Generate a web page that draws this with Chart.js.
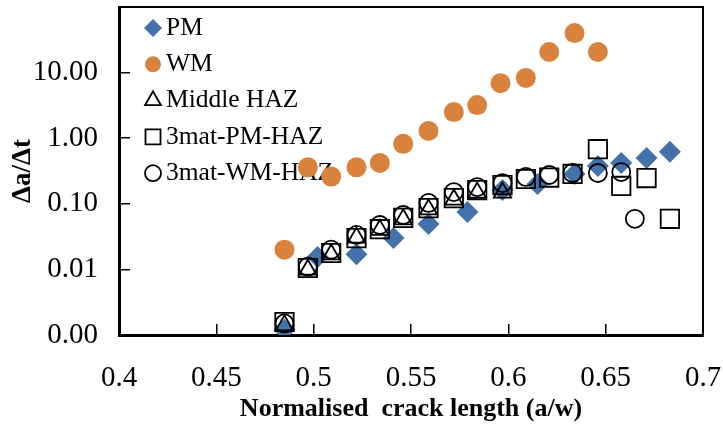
<!DOCTYPE html>
<html>
<head>
<meta charset="utf-8">
<script src="https://cdn.jsdelivr.net/npm/chart.js@4.4.1/dist/chart.umd.min.js"></script>
<style>
    html, body { margin: 0; padding: 0; background: #fff; }
    #wrap { width: 723px; height: 430px; }
</style>
</head>
<body>
<div id="wrap"><canvas id="crackChart" width="723" height="430"></canvas></div>
<script>
const seriesNames = ['PM', 'WM', 'Middle HAZ', '3mat-PM-HAZ', '3mat-WM-HAZ'];

const pmX = [0.485, 0.502, 0.522, 0.541, 0.559, 0.579, 0.597, 0.615, 0.634, 0.646, 0.658, 0.671, 0.683];
const pmY = [0.0012, 0.0155, 0.017, 0.030, 0.049, 0.075, 0.162, 0.20, 0.284, 0.376, 0.42, 0.50, 0.62];

const wmX = [0.485, 0.497, 0.509, 0.522, 0.534, 0.546, 0.559, 0.572, 0.584, 0.596, 0.609, 0.621, 0.634, 0.646];
const wmY = [0.020, 0.36, 0.26, 0.36, 0.42, 0.82, 1.29, 2.5, 3.2, 6.9, 8.3, 20.6, 40, 20.6];

const midX = [0.485, 0.497, 0.509, 0.522, 0.534, 0.546, 0.559, 0.572, 0.584, 0.597];
const midY = [0.0014, 0.0099, 0.0169, 0.0305, 0.040, 0.058, 0.082, 0.116, 0.148, 0.148];

const pmHazX = [0.485, 0.497, 0.509, 0.522, 0.534, 0.546, 0.559, 0.572, 0.584, 0.597, 0.609, 0.621, 0.633, 0.646, 0.658, 0.671, 0.683];
const pmHazY = [0.00158, 0.0105, 0.0178, 0.030, 0.041, 0.061, 0.086, 0.122, 0.162, 0.193, 0.239, 0.251, 0.285, 0.68, 0.187, 0.247, 0.059];

const wmHazX = [0.485, 0.497, 0.509, 0.522, 0.534, 0.546, 0.559, 0.572, 0.584, 0.597, 0.609, 0.621, 0.633, 0.646, 0.658, 0.665];
const wmHazY = [0.0015, 0.011, 0.020, 0.0335, 0.0475, 0.0675, 0.103, 0.151, 0.18, 0.207, 0.257, 0.275, 0.295, 0.295, 0.305, 0.059];

const xTickValues = [0.4, 0.45, 0.5, 0.55, 0.6, 0.65, 0.7];
const xTickLabels = ['0.4', '0.45', '0.5', '0.55', '0.6', '0.65', '0.7'];
const yTickValues = [0.001, 0.01, 0.1, 1, 10];
const yTickLabels = ['0.00', '0.01', '0.10', '1.00', '10.00'];

const serif = "'Liberation Serif', 'Times New Roman', serif";

function toPoints(xs, ys) {
    return xs.map((x, i) => ({ x: x, y: ys[i] }));
}

function hollow(name, xs, ys, style, radius, order) {
    return {
        label: name,
        data: toPoints(xs, ys),
        pointStyle: style,
        pointRadius: radius,
        backgroundColor: 'rgba(0,0,0,0)',
        borderColor: '#000',
        borderWidth: 1.8,
        order: order
    };
}

// fixed axis box sizes, and no extra edge padding from the tick labels
function fixSize(scale, prop, size) {
    scale[prop] = size;
    scale.paddingTop = 0;
    scale.paddingBottom = 0;
    scale.paddingLeft = 0;
    scale.paddingRight = 0;
}

// marker shapes for the legend
function drawMarker(ctx, style, x, y) {
    ctx.beginPath();
    if (style === 'rectRot') {
        const r = 9;
        ctx.moveTo(x, y - r); ctx.lineTo(x + r, y); ctx.lineTo(x, y + r); ctx.lineTo(x - r, y);
        ctx.closePath();
    } else if (style === 'triangle') {
        const r = 9.2;
        ctx.moveTo(x, y - r);
        ctx.lineTo(x + r * 0.866, y + r * 0.5);
        ctx.lineTo(x - r * 0.866, y + r * 0.5);
        ctx.closePath();
    } else if (style === 'rect') {
        ctx.rect(x - 7.5, y - 7.5, 15, 15);
    } else {
        ctx.arc(x, y, 8, 0, Math.PI * 2);
    }
}

// legend in the top-left corner of the plot, under the data points
const cornerLegend = {
    id: 'cornerLegend',
    beforeDatasetsDraw(chart) {
        const ctx = chart.ctx;
        ctx.save();
        ctx.font = `25.5px ${serif}`;
        ctx.textBaseline = 'middle';
        ctx.textAlign = 'left';
        chart.data.datasets.forEach((ds, i) => {
            const y = 28 + i * 36.3;
            drawMarker(ctx, ds.pointStyle, 153, y);
            ctx.fillStyle = ds.backgroundColor;
            ctx.fill();
            if (ds.borderWidth > 0) {
                ctx.lineWidth = ds.borderWidth;
                ctx.strokeStyle = ds.borderColor;
                ctx.stroke();
            }
            ctx.fillStyle = '#000';
            ctx.fillText(ds.label, 166, y);
        });
        ctx.restore();
    }
};

// top and right frame lines of the plot box
const frameLines = {
    id: 'frameLines',
    afterDraw(chart) {
        const { ctx, chartArea } = chart;
        ctx.save();
        ctx.strokeStyle = '#000';
        ctx.lineWidth = 2;
        ctx.beginPath();
        ctx.moveTo(chartArea.left, chartArea.top);
        ctx.lineTo(chartArea.right, chartArea.top);
        ctx.lineTo(chartArea.right, chartArea.bottom);
        ctx.stroke();
        ctx.restore();
    }
};

new Chart(document.getElementById('crackChart'), {
    type: 'scatter',
    data: {
        datasets: [
            {
                label: seriesNames[0],
                data: toPoints(pmX, pmY),
                pointStyle: 'rectRot',
                pointRadius: 11,
                backgroundColor: '#4371AA',
                borderColor: '#4371AA',
                borderWidth: 0,
                order: 5
            },
            {
                label: seriesNames[1],
                data: toPoints(wmX, wmY),
                pointStyle: 'circle',
                pointRadius: 10,
                backgroundColor: '#D9823D',
                borderColor: '#D9823D',
                borderWidth: 0,
                order: 4
            },
            hollow(seriesNames[2], midX, midY, 'triangle', 10, 3),
            hollow(seriesNames[3], pmHazX, pmHazY, 'rect', 13, 2),
            hollow(seriesNames[4], wmHazX, wmHazY, 'circle', 9, 1)
        ]
    },
    options: {
        responsive: false,
        animation: false,
        events: [],
        layout: { autoPadding: false, padding: { top: 7, right: 20, left: 0, bottom: 0 } },
        plugins: {
            legend: { display: false }
        },
        scales: {
            x: {
                type: 'linear',
                position: 'bottom',
                min: 0.4,
                max: 0.7,
                afterBuildTicks: (scale) => {
                    scale.ticks = xTickValues.map(v => ({ value: v }));
                },
                afterFit: (scale) => fixSize(scale, 'height', 95),
                ticks: {
                    color: '#000',
                    padding: 36.6,
                    font: { family: serif, size: 29 },
                    callback: (value, index) => xTickLabels[index]
                },
                grid: {
                    drawOnChartArea: false,
                    drawTicks: true,
                    tickLength: -11,
                    color: '#000',
                    lineWidth: 1.5
                },
                border: { display: true, color: '#000', width: 3 },
                title: {
                    display: true,
                    text: 'Normalised  crack length (a/w)',
                    color: '#000',
                    font: { family: serif, size: 26, weight: 'bold' },
                    padding: { top: 0, bottom: 5 }
                }
            },
            y: {
                type: 'logarithmic',
                min: 0.001,
                max: 100,
                afterBuildTicks: (scale) => {
                    scale.ticks = yTickValues.map(v => ({ value: v }));
                },
                afterFit: (scale) => fixSize(scale, 'width', 119),
                ticks: {
                    color: '#000',
                    padding: 32,
                    font: { family: serif, size: 29 },
                    callback: (value, index) => yTickLabels[index]
                },
                grid: {
                    drawOnChartArea: false,
                    drawTicks: true,
                    tickLength: -11,
                    color: '#000',
                    lineWidth: 1.5
                },
                border: { display: true, color: '#000', width: 3 },
                title: {
                    display: true,
                    text: 'Δa/Δt',
                    color: '#000',
                    font: { family: serif, size: 27, weight: 'bold' },
                    padding: { top: 7, bottom: 0 }
                }
            }
        }
    },
    plugins: [cornerLegend, frameLines]
});
</script>
</body>
</html>
